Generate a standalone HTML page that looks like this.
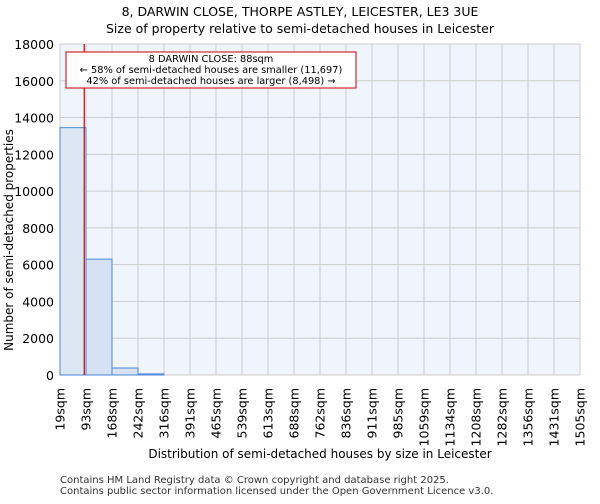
<!DOCTYPE html>
<html><head><meta charset="utf-8"><style>
body{margin:0;background:#fff;font-family:"DejaVu Sans","Liberation Sans",sans-serif}
</style></head><body>
<svg width="600" height="500" xmlns="http://www.w3.org/2000/svg" font-family="DejaVu Sans, Liberation Sans, sans-serif">
<text x="300" y="16" text-anchor="middle" font-size="12.5">8, DARWIN CLOSE, THORPE ASTLEY, LEICESTER, LE3 3UE</text>
<text x="300" y="33" text-anchor="middle" font-size="12.5">Size of property relative to semi-detached houses in Leicester</text>
<rect x="60" y="44" width="520" height="331" fill="#f0f4fc"/>
<g id="grid"></g><g id="bars"></g><g id="axes"></g>
<line id="marker" y1="44" y2="375" stroke="#d00000" stroke-width="1.2"/>
<rect x="66" y="52" width="290" height="36" fill="#fff" stroke="#cc0000"/>
<text x="211" y="62" text-anchor="middle" font-size="9.8">8 DARWIN CLOSE: 88sqm</text>
<text x="211" y="73" text-anchor="middle" font-size="9.8">← 58% of semi-detached houses are smaller (11,697)</text>
<text x="211" y="84" text-anchor="middle" font-size="9.8">42% of semi-detached houses are larger (8,498) →</text>
<text x="13" y="240" transform="rotate(-90 13 240)" text-anchor="middle" font-size="12">Number of semi-detached properties</text>
<text x="320" y="458" text-anchor="middle" font-size="12">Distribution of semi-detached houses by size in Leicester</text>
<text x="60" y="483" font-size="10" fill="#333">Contains HM Land Registry data © Crown copyright and database right 2025.</text>
<text x="60" y="494" font-size="10" fill="#333">Contains public sector information licensed under the Open Government Licence v3.0.</text>
</svg>
<script>
const tickLabels=["19sqm","93sqm","168sqm","242sqm","316sqm","391sqm","465sqm","539sqm","613sqm","688sqm","762sqm","836sqm","911sqm","985sqm","1059sqm","1134sqm","1208sqm","1282sqm","1356sqm","1431sqm","1505sqm"];
const binEdges=[19,93,168,242,316,391,465,539,613,688,762,836,911,985,1059,1134,1208,1282,1356,1431,1505];
const counts=[13450,6300,380,60,0,0,0,0,0,0,0,0,0,0,0,0,0,0,0,0];
const yTicks=[0,2000,4000,6000,8000,10000,12000,14000,16000,18000];
const propertySize=88;
const NS="http://www.w3.org/2000/svg";
const L=60,R=580,T=44,B=375,yMax=18000;
const xi=i=>L+(R-L)*i/counts.length;
const xv=v=>{for(let i=0;i<binEdges.length-1;i++){if(v<=binEdges[i+1])return xi(i)+(v-binEdges[i])/(binEdges[i+1]-binEdges[i])*(xi(i+1)-xi(i));}return R;};
const y=v=>B-(B-T)*v/yMax;
function mk(t,a,p){const e=document.createElementNS(NS,t);for(const k in a)e.setAttribute(k,a[k]);p.appendChild(e);return e;}
const g=document.getElementById('grid'),bg=document.getElementById('bars'),ax=document.getElementById('axes');
yTicks.forEach(v=>{const l=mk('line',{x1:L,x2:R,y1:y(v),y2:y(v),stroke:'#ccc'},g);


const t=mk('text',{x:L-6,y:y(v)+5,'text-anchor':'end','font-size':12.5},ax);t.textContent=v;

});
tickLabels.forEach((s,i)=>{const x=xi(i);const l=mk('line',{x1:x,x2:x,y1:T,y2:B,stroke:'#ccc'},g);


const t=mk('text',{x:x+4.5,y:388,'text-anchor':'end','font-size':12.5,transform:`rotate(-90 ${x+4.5} 388)`},ax);t.textContent=s;

});
counts.forEach((c,i)=>{if(c<=0)return;const r=mk('rect',{x:xi(i),y:y(c),width:xi(i+1)-xi(i),height:B-y(c),fill:i===0?'#dde6f3':'#d6e1f3',stroke:'#4a86d8','stroke-width':1},bg);

});
const mkr=document.getElementById('marker');mkr.setAttribute('x1',xv(propertySize));mkr.setAttribute('x2',xv(propertySize));
</script>
</body></html>
